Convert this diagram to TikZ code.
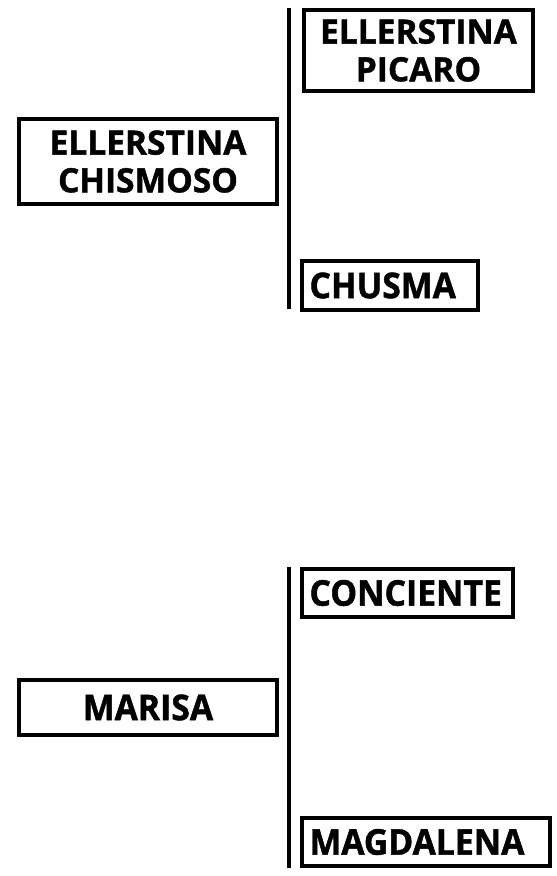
\documentclass[tikz,border=0pt]{standalone}
\usepackage{fontspec}
\setmainfont{Open Sans}[BoldFont={Open Sans Bold},BoldFeatures={FakeBold=1.2}]
\newfontfamily\tallfont{Open Sans Bold}[FakeBold=1.2,FakeStretch=0.95]
\begin{document}
\begin{tikzpicture}[x=1pt,y=-1pt,
  box/.style={draw=black,line width=4pt,inner xsep=8pt,inner ysep=0pt,
    font=\fontsize{33.5}{37.7}\selectfont\bfseries},
  tallbox/.style={box,font=\fontsize{35.5}{37.7}\selectfont\tallfont},
  bar/.style={line width=4pt,draw=black}]
\useasboundingbox[fill=white] (0,0) rectangle (557,876);
\node[box,minimum width=229pt,minimum height=81pt,align=center] (picaro) at (418.5,50.5) {ELLERSTINA\\PICARO};
\node[box,minimum width=258pt,minimum height=85pt,align=center] (chismoso) at (148,161.5) {ELLERSTINA\\CHISMOSO};
\node[tallbox,minimum height=49pt,text width=160.5pt,align=left] (chusma) at (389.75,285.5) {CHUSMA};
\node[tallbox,minimum height=48pt,text width=195.5pt,align=left] (conciente) at (407.25,593) {CONCIENTE};
\node[tallbox,minimum width=258pt,minimum height=55pt,align=center] (marisa) at (148,707.5) {MARISA};
\node[tallbox,minimum height=48pt,text width=232.5pt,align=left] (magdalena) at (425.75,842) {MAGDALENA};
\coordinate (t1) at (289,8);
\coordinate (b1) at (289,309);
\coordinate (t2) at (289,567);
\coordinate (b2) at (289,868);
\draw[bar] (t1) -- (b1);
\draw[bar] (t2) -- (b2);
\end{tikzpicture}
\end{document}
